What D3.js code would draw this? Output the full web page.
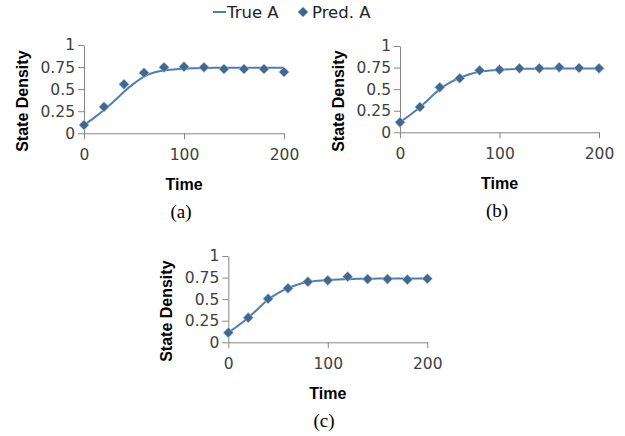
<!DOCTYPE html>
<html>
<head>
<meta charset="utf-8">
<script src="https://cdn.jsdelivr.net/npm/d3@7"></script>
<style>
  body { margin: 0; background: #fff; }
  .tick text { font-family: "DejaVu Sans", sans-serif; font-size: 15.5px; fill: #404040; }
  .axis path, .axis line { stroke: #868686; stroke-width: 1; }
  .title { font-family: "Liberation Sans", Arial, sans-serif; font-weight: bold; font-size: 16px; fill: #000; }
  .caption { font-family: "Liberation Serif", serif; font-size: 19px; fill: #000; }
  .legend { font-family: "DejaVu Sans", sans-serif; font-size: 16.5px; fill: #222; }
</style>
</head>
<body>
<svg id="chart" width="625" height="436"></svg>
<script>
// time steps of the true curve and of the predictions
var trueTimes = [0, 10, 20, 30, 40, 50, 60, 70, 80, 90, 100, 110, 120, 130, 140, 150, 160, 170, 180, 190, 200]
var predTimes = [0, 20, 40, 60, 80, 100, 120, 140, 160, 180, 200]

var trueA_a = [0.094, 0.175, 0.264, 0.362, 0.47, 0.565, 0.642, 0.688, 0.711, 0.723, 0.731, 0.736, 0.739, 0.741, 0.742, 0.742, 0.743, 0.743, 0.743, 0.743, 0.743]
var predA_a = [0.094, 0.30, 0.555, 0.686, 0.747, 0.754, 0.747, 0.728, 0.728, 0.728, 0.694]

var trueA_b = [0.116, 0.2, 0.29, 0.395, 0.5, 0.575, 0.632, 0.673, 0.7, 0.715, 0.724, 0.73, 0.734, 0.736, 0.738, 0.739, 0.74, 0.74, 0.74, 0.74, 0.74]
var predA_b = [0.116, 0.293, 0.521, 0.626, 0.718, 0.725, 0.741, 0.741, 0.753, 0.745, 0.741]

var trueA_c = [0.112, 0.195, 0.285, 0.39, 0.495, 0.57, 0.628, 0.67, 0.698, 0.713, 0.722, 0.728, 0.732, 0.735, 0.737, 0.738, 0.739, 0.74, 0.74, 0.74, 0.74]
var predA_c = [0.112, 0.285, 0.505, 0.625, 0.702, 0.718, 0.76, 0.733, 0.733, 0.726, 0.737]

var yTicks = [0, 0.25, 0.5, 0.75, 1]
var yTickLabels = ["0", "0.25", "0.5", "0.75", "1"]
var xTicks = [0, 100, 200]

var lineColor = "#4a7ebb"
var markerColor = "#3f6896"
var markerSize = 52

var svg = d3.select("#chart")

// panel layout: left/right of x axis, top/bottom of y axis
var panels = [
    { x0: 84, x1: 284, yTop: 45, yBot: 133.3, caption: "(a)", capX: 181, trueVals: trueA_a, predVals: predA_a },
    { x0: 400, x1: 599, yTop: 46, yBot: 132.3, caption: "(b)", capX: 497, trueVals: trueA_b, predVals: predA_b },
    { x0: 228.3, x1: 427.3, yTop: 256, yBot: 342.3, caption: "(c)", capX: 324, trueVals: trueA_c, predVals: predA_c }
]

panels.forEach(function (p) {
    var x = d3.scaleLinear().domain([0, 200]).range([p.x0, p.x1])
    var y = d3.scaleLinear().domain([0, 1]).range([p.yBot, p.yTop])

    var g = svg.append("g")

    g.append("g")
        .attr("class", "axis")
        .attr("transform", "translate(0," + y(0) + ")")
        .call(d3.axisBottom(x).tickValues(xTicks).tickSize(6).tickSizeOuter(0).tickPadding(10))

    g.append("g")
        .attr("class", "axis")
        .attr("transform", "translate(" + x(0) + ",0)")
        .call(d3.axisLeft(y).tickValues(yTicks).tickSize(6).tickSizeOuter(0).tickPadding(3)
            .tickFormat(function (d, i) { return yTickLabels[i] }))

    g.selectAll(".domain").attr("stroke", "#868686")

    // true curve
    var line = d3.line()
        .x(function (d, i) { return x(trueTimes[i]) })
        .y(function (d) { return y(d) })
        .curve(d3.curveMonotoneX)

    g.append("path")
        .datum(p.trueVals)
        .attr("d", line)
        .attr("fill", "none")
        .attr("stroke", lineColor)
        .attr("stroke-width", 2)

    // predicted points as diamonds
    var diamond = d3.symbol().type(d3.symbolSquare).size(markerSize)
    g.selectAll(".pred")
        .data(p.predVals)
        .enter()
        .append("path")
        .attr("class", "pred")
        .attr("d", diamond)
        .attr("transform", function (d, i) {
            return "translate(" + x(predTimes[i]) + "," + y(d) + ") rotate(45)"
        })
        .attr("fill", markerColor)
        .attr("stroke", "#b8c8a8")
        .attr("stroke-width", 0.6)

    // axis titles
    var midX = (p.x0 + p.x1) / 2
    g.append("text")
        .attr("class", "title")
        .attr("text-anchor", "middle")
        .attr("x", midX)
        .attr("y", p.yBot + 57)
        .text("Time")

    g.append("text")
        .attr("class", "title")
        .attr("text-anchor", "middle")
        .attr("transform", "translate(" + (p.x0 - 56) + "," + ((p.yTop + p.yBot) / 2 + 12) + ") rotate(-90)")
        .text("State Density")

    g.append("text")
        .attr("class", "caption")
        .attr("text-anchor", "middle")
        .attr("x", p.capX)
        .attr("y", p.yBot + 85)
        .text(p.caption)
})

// legend
var lg = svg.append("g")
lg.append("line")
    .attr("x1", 213).attr("x2", 226)
    .attr("y1", 12).attr("y2", 12)
    .attr("stroke", lineColor).attr("stroke-width", 2)
lg.append("text").attr("class", "legend").attr("x", 227).attr("y", 18).text("True A")
lg.append("path")
    .attr("d", d3.symbol().type(d3.symbolSquare).size(markerSize))
    .attr("transform", "translate(303,12) rotate(45)")
    .attr("fill", markerColor)
lg.append("text").attr("class", "legend").attr("x", 312).attr("y", 18).text("Pred. A")
</script>
</body>
</html>
